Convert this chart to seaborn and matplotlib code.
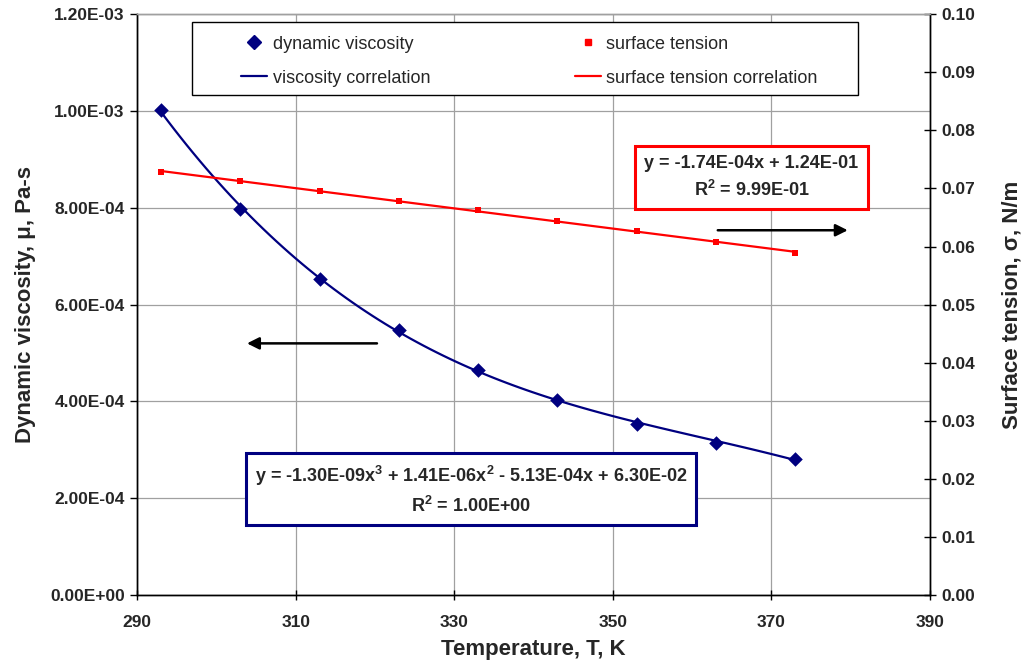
import matplotlib
matplotlib.use("Agg")
import matplotlib.pyplot as plt
from matplotlib.lines import Line2D
from matplotlib.patches import Rectangle
import seaborn as sns
import pandas as pd

# ---- data ----
temperature = [293, 303, 313, 323, 333, 343, 353, 363, 373]
viscosity = [1.002e-3, 7.97e-4, 6.53e-4, 5.47e-4, 4.66e-4, 4.04e-4, 3.54e-4, 3.15e-4, 2.82e-4]
surface_tension = [0.0728, 0.0712, 0.0696, 0.0679, 0.0662, 0.0644, 0.0626, 0.0608, 0.0589]

x_ticks = [290, 310, 330, 350, 370, 390]
left_ticks = [0.0, 2e-4, 4e-4, 6e-4, 8e-4, 1e-3, 1.2e-3]
left_tick_labels = ["0.00E+00", "2.00E-04", "4.00E-04", "6.00E-04", "8.00E-04", "1.00E-03", "1.20E-03"]
right_ticks = [0.00, 0.01, 0.02, 0.03, 0.04, 0.05, 0.06, 0.07, 0.08, 0.09, 0.10]
right_tick_labels = ["0.00", "0.01", "0.02", "0.03", "0.04", "0.05", "0.06", "0.07", "0.08", "0.09", "0.10"]

legend_labels = ["dynamic viscosity", "viscosity correlation", "surface tension", "surface tension correlation"]
visc_eq = "y = -1.30E-09x$^3$ + 1.41E-06x$^2$ - 5.13E-04x + 6.30E-02\nR$^2$ = 1.00E+00"
st_eq = "y = -1.74E-04x + 1.24E-01\nR$^2$ = 9.99E-01"

df = pd.DataFrame({"T": temperature, "mu": viscosity, "sigma": surface_tension})

sns.set_style("white")
plt.rcParams["font.family"] = ["Liberation Sans", "DejaVu Sans"]
plt.rcParams["mathtext.fontset"] = "custom"
plt.rcParams["mathtext.rm"] = "Liberation Sans:bold"
plt.rcParams["mathtext.it"] = "Liberation Sans:bold"
plt.rcParams["mathtext.bf"] = "Liberation Sans:bold"

navy = "#000080"
red = "#FF0000"

fig = plt.figure(figsize=(10.24, 6.71), dpi=100)
ax = fig.add_axes([0.134, 0.113, 0.774, 0.866])
ax2 = ax.twinx()

# viscosity
sns.regplot(data=df, x="T", y="mu", order=3, ci=None, scatter=False, ax=ax,
            line_kws=dict(color=navy, lw=1.6, zorder=2))
sns.scatterplot(data=df, x="T", y="mu", ax=ax, marker="D", color=navy, s=55,
                edgecolor=navy, linewidth=0, zorder=3)

# surface tension
sns.regplot(data=df, x="T", y="sigma", order=1, ci=None, scatter=False, ax=ax2,
            line_kws=dict(color=red, lw=1.6, zorder=2))
sns.scatterplot(data=df, x="T", y="sigma", ax=ax2, marker="s", color=red, s=22,
                edgecolor=red, linewidth=0, zorder=3)

ax.set_xlim(290, 390)
ax.set_ylim(0, 1.2e-3)
ax2.set_ylim(0, 0.10)
ax.set_xticks(x_ticks)
ax.set_xticklabels([str(t) for t in x_ticks])
ax.set_yticks(left_ticks)
ax.set_yticklabels(left_tick_labels)
ax2.set_yticks(right_ticks)
ax2.set_yticklabels(right_tick_labels)

ax.grid(True, color="#a0a0a0", lw=0.9)
ax2.grid(False)
ax.set_axisbelow(True)

for a in (ax, ax2):
    for s in a.spines.values():
        s.set_color("black")
        s.set_linewidth(1.0)
    a.spines["top"].set_color("#a0a0a0")

ax.tick_params(axis="y", direction="out", length=5, width=1, color="black", pad=4, left=True)
ax.tick_params(axis="x", direction="inout", length=7, width=1, color="black", pad=11, bottom=True)
ax2.tick_params(axis="y", direction="inout", length=9, width=1, color="black", pad=4, right=True)
for lab in ax.get_xticklabels() + ax.get_yticklabels() + ax2.get_yticklabels():
    lab.set_fontsize(12.5)
    lab.set_fontweight("bold")

ax.set_xlabel("Temperature, T, K", fontsize=16, fontweight="bold", labelpad=6)
ax.set_ylabel("Dynamic viscosity, μ, Pa-s", fontsize=16, fontweight="bold", labelpad=10)
ax2.set_ylabel("Surface tension, σ, N/m", fontsize=16, fontweight="bold", labelpad=19)

# legend frame + legend
frame = Rectangle((0.069, 0.861), 0.840, 0.125, transform=ax2.transAxes,
                  facecolor="white", edgecolor="black", lw=1.0, zorder=4)
ax2.add_patch(frame)
handles = [
    Line2D([], [], marker="D", color=navy, ls="none", markersize=7),
    Line2D([], [], color=navy, lw=1.6),
    Line2D([], [], marker="s", color=red, ls="none", markersize=4.5),
    Line2D([], [], color=red, lw=1.6),
]
leg = ax2.legend(handles, legend_labels, ncol=2, loc="upper left",
                 bbox_to_anchor=(0.131, 0.963), frameon=False,
                 fontsize=13, handlelength=1.45, handletextpad=0.3,
                 borderpad=0.0, borderaxespad=0.0, labelspacing=0.95, columnspacing=8.0)
leg.set_zorder(6)

# equation boxes
ax2.text(367.5, 0.0719, st_eq, ha="center", va="center", fontsize=13, fontweight="bold",
         linespacing=1.45, zorder=5,
         bbox=dict(boxstyle="square,pad=0.5", fc="white", ec=red, lw=2.2))
ax.text(332.1, 2.17e-4, visc_eq, ha="center", va="center", fontsize=13, fontweight="bold",
        linespacing=1.45, zorder=5,
        bbox=dict(boxstyle="square,pad=0.5", fc="white", ec=navy, lw=2.2))

# arrows
ax.annotate("", xy=(303.5, 5.2e-4), xytext=(320.6, 5.2e-4),
            arrowprops=dict(arrowstyle="-|>", color="black", lw=1.8, mutation_scale=18))
ax2.annotate("", xy=(380.0, 0.0628), xytext=(362.9, 0.0628),
             arrowprops=dict(arrowstyle="-|>", color="black", lw=1.8, mutation_scale=18))

fig.savefig("out.png", dpi=100)
